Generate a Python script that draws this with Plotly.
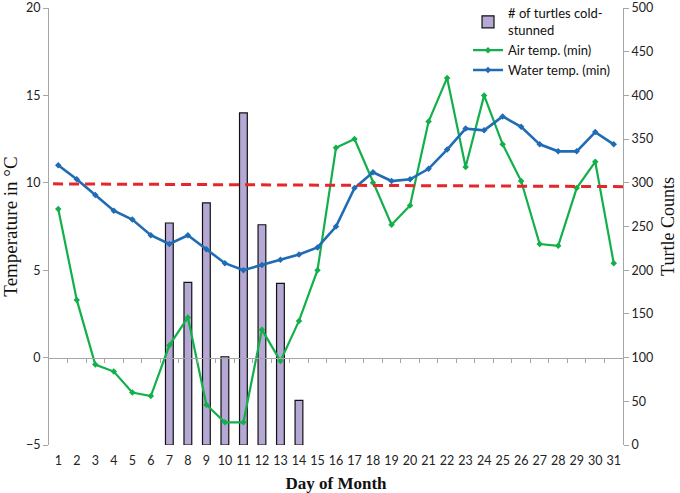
import plotly.graph_objects as go

days = list(range(1, 32))
day_labels = [str(d) for d in days]

air_temp = [8.5, 3.3, -0.4, -0.8, -2.0, -2.2, 0.7, 2.3, -2.7, -3.7, -3.7, 1.6, -0.2, 2.1, 5.0,
            12.0, 12.5, 10.0, 7.6, 8.7, 13.5, 16.0, 10.9, 15.0, 12.2, 10.1, 6.5, 6.4, 9.7, 11.2, 5.4]
water_temp = [11.0, 10.2, 9.3, 8.4, 7.9, 7.0, 6.5, 7.0, 6.2, 5.4, 5.0, 5.3, 5.6, 5.9, 6.3,
              7.5, 9.7, 10.6, 10.1, 10.2, 10.8, 11.9, 13.1, 13.0, 13.8, 13.2, 12.2, 11.8, 11.8, 12.9, 12.2]
turtle_days = [7, 8, 9, 10, 11, 12, 13, 14]
turtle_counts = [254, 186, 277, 101, 380, 252, 185, 51]
trend_x = [0.72, 31.5]
trend_y = [9.94, 9.78]
between_ticks = [d + 0.5 for d in days[:-1]]

GREEN = "#12b04a"
BLUE = "#1f6cb5"
RED = "#e5262a"
BAR = "#b5a8d4"
GRAY = "#a6a6a6"
TICKFONT = dict(family="Lato, Open Sans, sans-serif", size=12.5, color="#222")
SERIF = "Liberation Serif, DejaVu Serif, serif"

fig = go.Figure()
fig.add_trace(go.Bar(
    x=turtle_days, y=turtle_counts, name="# of turtles cold-<br>stunned",
    marker=dict(color=BAR, line=dict(color="#111", width=1.2)),
    width=0.42, xaxis="x", yaxis="y"))
fig.add_trace(go.Scatter(
    x=days, y=air_temp, name="Air temp. (min)", mode="lines+markers",
    line=dict(color=GREEN, width=2.2), marker=dict(symbol="diamond", size=5, color=GREEN),
    xaxis="x", yaxis="y2"))
fig.add_trace(go.Scatter(
    x=days, y=water_temp, name="Water temp. (min)", mode="lines+markers",
    line=dict(color=BLUE, width=2.6), marker=dict(symbol="diamond", size=5, color=BLUE),
    xaxis="x", yaxis="y2"))
fig.add_trace(go.Scatter(
    x=trend_x, y=trend_y, mode="lines", showlegend=False,
    line=dict(color=RED, width=3, dash="10px,6px"), hoverinfo="skip",
    xaxis="x", yaxis="y2"))
# invisible helper so the category-divider axis at temperature 0 is drawn
fig.add_trace(go.Scatter(
    x=[days[0]], y=[0], mode="markers", marker=dict(opacity=0), showlegend=False,
    hoverinfo="skip", xaxis="x2", yaxis="y2"))

fig.update_layout(
    width=680, height=493,
    margin=dict(l=49, r=57, t=8, b=48, autoexpand=False),
    paper_bgcolor="white", plot_bgcolor="white",
    showlegend=True,
    legend=dict(x=0.73, y=1.022, xanchor="left", yanchor="top",
                font=dict(family="Lato, Open Sans, sans-serif", size=13, color="#111"),
                bgcolor="rgba(0,0,0,0)", tracegroupgap=0, itemwidth=30),
    xaxis=dict(range=[0.5, 31.5], tickmode="array", tickvals=days, ticktext=day_labels,
               showgrid=False, zeroline=False, showline=False, ticks="", automargin=False,
               tickfont=TICKFONT, ticklabeloverflow="allow", ticklabelstandoff=6,
               title=dict(text="<b>Day of Month</b>", font=dict(family=SERIF, size=17, color="#111"),
                          standoff=10)),
    xaxis2=dict(range=[0.5, 31.5], overlaying="x", anchor="free", position=0.2,
                tickmode="array", tickvals=between_ticks, automargin=False,
                showticklabels=False, ticks="outside", ticklen=4, tickcolor=GRAY,
                showline=True, linecolor=GRAY, linewidth=1, showgrid=False, zeroline=False),
    yaxis=dict(range=[0, 500], dtick=50, side="right", showgrid=False, zeroline=False,
               showline=True, linecolor=GRAY, linewidth=1, ticks="outside", ticklen=5,
               tickcolor=GRAY, tickfont=TICKFONT, automargin=False, ticklabeloverflow="allow",
               title=dict(text="Turtle Counts", font=dict(family=SERIF, size=18, color="#111"),
                          standoff=9)),
    yaxis2=dict(range=[-5, 20], dtick=5, side="left", overlaying="y", showgrid=False,
                zeroline=False, showline=True, linecolor=GRAY, linewidth=1, automargin=False,
                ticks="outside", ticklen=5, tickcolor=GRAY, tickfont=TICKFONT,
                ticklabeloverflow="allow",
                title=dict(text="Temperature in °C", font=dict(family=SERIF, size=19, color="#111"),
                           standoff=6)),
)

fig.write_html("out.html", config={"displayModeBar": False},
               post_script="document.body.style.margin='0px';")
